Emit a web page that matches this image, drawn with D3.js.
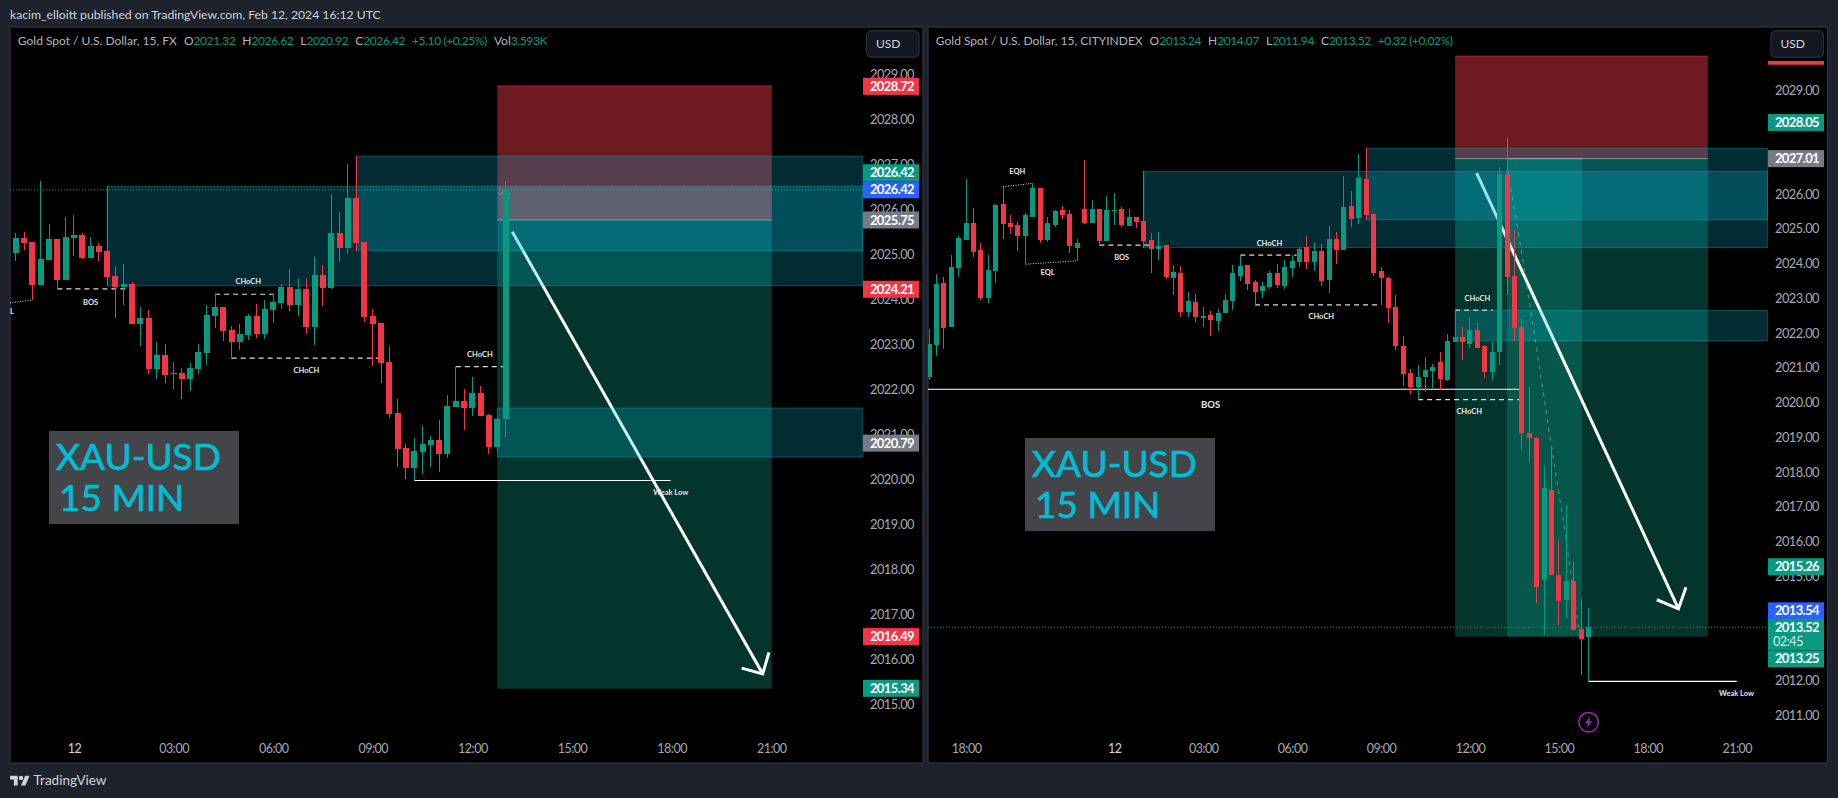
<!DOCTYPE html>
<html><head><meta charset="utf-8">
<script src="https://cdn.jsdelivr.net/npm/d3@7/dist/d3.min.js"></script>
<style>
html,body{margin:0;padding:0;background:#1e222d;overflow:hidden}
svg{display:block}
text{font-family:Lato,"Open Sans",sans-serif}
</style></head><body>
<svg id="c" width="1838" height="798"></svg>
<script>
// ---------- DATA: [open, high, low, close] ----------
const leftFirstBar = -7;
const leftCandles = [
[2025.02,2025.45,2024.84,2025.35],[2025.35,2025.48,2025.08,2025.24],[2025.26,2025.26,2023.97,2024.30],[2024.30,2026.61,2024.30,2024.88],
[2024.86,2025.66,2024.86,2025.33],[2025.33,2025.33,2024.21,2024.41],[2024.41,2025.81,2024.41,2025.37],[2025.35,2025.86,2024.95,2025.41],
[2025.41,2025.46,2024.88,2024.90],[2024.90,2025.37,2024.90,2025.17],[2025.17,2025.24,2024.84,2025.04],[2025.06,2026.50,2024.29,2024.48],
[2024.50,2024.73,2023.57,2024.26],[2024.26,2024.77,2023.86,2024.33],[2024.33,2024.37,2023.44,2023.44],[2023.44,2023.81,2022.95,2023.57],
[2023.57,2023.75,2022.33,2022.44],[2022.44,2023.04,2022.21,2022.75],[2022.75,2022.99,2022.13,2022.30],[2022.33,2022.59,2021.99,2022.35],
[2022.35,2022.46,2021.77,2022.21],[2022.21,2022.57,2021.95,2022.46],[2022.44,2022.99,2022.33,2022.81],[2022.79,2023.86,2022.53,2023.64],
[2023.61,2024.12,2023.35,2023.81],[2023.81,2023.81,2023.06,2023.28],[2023.30,2023.39,2022.67,2023.04],[2023.04,2023.44,2022.86,2023.21],
[2023.19,2023.66,2023.08,2023.61],[2023.61,2023.88,2023.13,2023.21],[2023.21,2023.97,2023.10,2023.77],[2023.75,2024.10,2023.46,2023.93],
[2023.90,2024.33,2023.77,2024.26],[2024.26,2024.66,2023.73,2023.86],[2023.86,2024.44,2023.61,2024.21],[2024.21,2024.44,2023.21,2023.37],
[2023.37,2024.93,2022.97,2024.53],[2024.53,2024.75,2023.84,2024.24],[2024.24,2026.33,2024.21,2025.46],[2025.46,2025.93,2024.81,2025.13],
[2025.13,2026.99,2024.99,2026.24],[2026.24,2027.17,2025.06,2025.24],[2025.26,2025.26,2023.48,2023.59],[2023.61,2023.77,2022.50,2023.44],
[2023.46,2023.46,2022.13,2022.57],[2022.59,2022.95,2021.35,2021.44],[2021.46,2021.76,2020.26,2020.66],[2020.68,2020.77,2019.99,2020.24],
[2020.24,2020.90,2019.97,2020.61],[2020.59,2021.17,2020.10,2020.77],[2020.75,2020.95,2020.26,2020.86],[2020.86,2021.30,2020.15,2020.55],
[2020.55,2021.86,2020.46,2021.61],[2021.59,2022.49,2021.59,2021.73],[2021.73,2021.99,2021.08,2021.57],[2021.57,2022.25,2021.39,2021.90],
[2021.90,2022.06,2021.39,2021.39],[2021.41,2021.44,2020.55,2020.70],[2020.70,2021.38,2020.60,2021.33],[2021.32,2026.62,2020.92,2026.42]
];
const rightFirstBar = -25;
const rightCandles = [
[2020.72,2022.10,2020.63,2021.67],[2021.64,2023.69,2021.32,2023.40],[2023.43,2023.60,2021.53,2022.13],[2022.16,2024.23,2022.16,2023.89],
[2023.86,2024.78,2023.60,2024.72],[2024.67,2026.42,2024.67,2025.16],[2025.16,2025.59,2024.18,2024.32],[2024.38,2024.58,2022.94,2023.00],
[2023.00,2024.23,2022.85,2023.80],[2023.77,2025.70,2023.43,2025.67],[2025.70,2026.20,2024.69,2025.13],[2025.16,2025.39,2024.84,2025.04],
[2025.10,2025.18,2024.35,2024.78],[2024.78,2025.44,2023.95,2025.39],[2025.33,2026.31,2025.33,2026.16],[2026.16,2026.16,2024.58,2024.67],
[2024.67,2025.33,2024.61,2025.16],[2025.10,2025.53,2025.04,2025.50],[2025.53,2025.64,2025.27,2025.39],[2025.41,2025.53,2024.29,2024.49],
[2024.44,2024.69,2024.06,2024.58],[2025.56,2026.97,2025.13,2025.16],[2025.16,2025.82,2025.16,2025.56],[2025.56,2025.56,2024.52,2024.64],
[2024.64,2025.93,2024.64,2025.53],[2025.50,2026.02,2025.10,2025.52],[2025.56,2025.62,2025.04,2025.10],[2025.07,2025.56,2025.07,2025.33],
[2025.33,2025.33,2025.01,2025.18],[2025.21,2026.64,2024.44,2024.64],[2024.67,2024.87,2023.72,2024.41],[2024.41,2024.90,2024.09,2024.49],
[2024.52,2024.52,2023.54,2023.60],[2023.57,2023.95,2023.08,2023.74],[2023.72,2023.92,2022.45,2022.59],[2022.59,2023.17,2022.45,2022.91],
[2022.88,2023.11,2022.30,2022.45],[2022.42,2022.74,2022.16,2022.48],[2022.51,2022.62,2021.90,2022.36],[2022.33,2022.68,2022.04,2022.56],
[2022.56,2023.11,2022.56,2022.94],[2022.91,2023.95,2022.65,2023.72],[2023.63,2024.23,2023.48,2023.92],[2023.95,2023.95,2023.23,2023.40],
[2023.46,2023.51,2022.79,2023.17],[2023.20,2023.46,2023.00,2023.34],[2023.31,2023.77,2023.25,2023.72],[2023.72,2023.97,2023.28,2023.37],
[2023.34,2024.09,2023.25,2023.89],[2023.86,2024.23,2023.60,2024.06],[2024.03,2024.46,2023.89,2024.41],[2024.46,2024.78,2023.83,2024.03],
[2024.03,2024.58,2023.77,2024.35],[2024.35,2024.55,2023.34,2023.48],[2023.51,2025.07,2023.14,2024.69],[2024.69,2024.90,2023.97,2024.38],
[2024.38,2026.51,2024.38,2025.62],[2025.64,2026.08,2025.04,2025.27],[2025.30,2027.14,2025.13,2026.45],[2026.42,2027.32,2025.24,2025.39],
[2025.41,2025.41,2023.63,2023.72],[2023.77,2023.89,2022.79,2023.57],[2023.57,2023.60,2022.28,2022.71],[2022.74,2023.08,2021.50,2021.61],
[2021.61,2021.90,2020.46,2020.81],[2020.84,2020.95,2020.23,2020.43],[2020.43,2021.07,2020.06,2020.72],[2020.72,2021.30,2020.29,2020.92],
[2020.89,2021.09,2020.40,2021.01],[2021.15,2021.44,2020.35,2020.66],[2020.63,2021.96,2020.60,2021.76],[2021.73,2022.65,2021.73,2021.87],
[2021.87,2022.16,2021.21,2021.73],[2021.67,2022.45,2021.56,2022.07],[2022.07,2022.28,2021.56,2021.56],[2021.61,2021.64,2020.69,2020.86],
[2020.86,2021.73,2020.63,2021.44],[2021.44,2026.77,2021.07,2026.57],[2026.57,2027.60,2023.08,2023.60],[2023.63,2024.95,2021.76,2022.13],
[2022.16,2022.39,2018.62,2019.11],[2019.11,2020.44,2018.28,2018.96],[2018.96,2019.00,2014.21,2014.67],[2014.87,2018.16,2013.29,2017.52],
[2017.47,2018.68,2015.02,2015.02],[2015.02,2016.03,2013.58,2014.27],[2014.30,2017.03,2013.78,2014.84],[2014.84,2015.39,2013.43,2013.43],
[2013.46,2014.33,2012.14,2013.17],[2013.24,2014.07,2011.94,2013.52]
];
// zones: [startBar, topPrice, bottomPrice]
const leftZones = [[4,2026.50,2024.29],[34,2027.17,2025.07],[51,2021.57,2020.48]];
const rightZones = [[4,2026.64,2024.45],[34,2027.31,2025.25],[46,2022.64,2021.77]];
// positions: [startBar, endBar, stopPrice, entryPrice, targetPrice]
const leftPositions = [[51,84.07,2028.73,2025.75,2015.33]];
const rightPositions = [[46,80.1,2029.96,2027.01,2013.25],[53,63.1,2027.01,2027.01,2013.25]];
// pale band where the left position's stop meets both zones: [startBar, endBar, topPrice, bottomPrice]
const leftHighlight = [51,84.07,2026.50,2025.75];
// segments: [bar0, price0, bar1, price1, style]
const leftSegments = [
[-2,2024.22,6.57,2024.22,"dash"],[17,2024.10,24.2,2024.10,"dash"],[19,2022.68,37,2022.68,"dash"],[46,2022.49,51.7,2022.49,"dash"],
[-7.7,2023.91,-5,2023.97,"dot"],[41,2019.96,71.9,2019.96,"solid"]];
const rightSegments = [
[-15,2026.20,-11,2026.30,"dot"],[-12,2023.97,-5,2024.07,"dot"],[-2,2024.52,4.7,2024.52,"dash"],[17,2024.23,24.6,2024.23,"dash"],
[19,2022.80,36,2022.80,"dash"],[46,2022.65,51.1,2022.65,"dash"],[41,2020.07,54.7,2020.07,"dash"],
[-25.14,2020.37,54.7,2020.37,"solid"],[64,2011.96,84,2011.96,"solid"]];
// labels: [text, bar, price, size]
const leftLabels = [["BOS",1.99,2023.93,7.5],["CHoCH",21,2024.38,7.5],["CHoCH",28,2022.40,7.5],["CHoCH",48.9,2022.76,7.5],["L",-7.48,2023.71,7.5],["Weak Low",71.9,2019.70,7.5]];
const rightLabels = [["EQH",-13.09,2026.63,7.5],["EQL",-8.99,2023.73,7.5],["BOS",1,2024.17,7.5],["CHoCH",20.94,2024.56,7.5],["CHoCH",27.94,2022.46,7.5],["CHoCH",49,2022.99,7.5],["BOS",13,2019.92,9.5],["CHoCH",47.9,2019.72,7.5],["Weak Low",83.97,2011.61,7.5]];
// arrows: [startBar,startPrice,tipBar,tipPrice,headLBar,headLPrice,headRBar,headRPrice]
const leftArrow = [52.8,2025.49,82.98,2015.66,80.44,2015.79,83.73,2016.14];
const rightArrow = [48.9,2026.59,76.14,2014.05,73.22,2014.31,77.15,2014.67];
const rightGhostPath = [[53.08,2026.68],[54.93,2024.38],[57.02,2021.5],[58.64,2019.2],[60.72,2016.41],[62.81,2013.28]];
const leftGhostPath = [[51.33,2026.32],[51.93,2026.41],[52.53,2026.32]];
// price tags: [text, price, colour]
const leftTags = [["2028.72",2028.72,"#f23645"],["2026.42",2026.80,"#089981"],["2026.42",2026.42,"#2962ff"],["2025.75",2025.75,"#787b86"],["2024.21",2024.21,"#f23645"],["2020.79",2020.79,"#787b86"],["2016.49",2016.49,"#f23645"],["2015.34",2015.34,"#089981"]];
const rightTags = [["2028.05",2028.05,"#089981"],["2027.01",2027.01,"#787b86"],["2015.26",2015.26,"#089981"],["2013.54",2013.99,"#2962ff"],["2013.25",2012.61,"#089981"]];
const leftBarTicks = [0,12,24,36,48,60,72,84];
const leftTimeLabels = ["12","03:00","06:00","09:00","12:00","15:00","18:00","21:00"];
const rightBarTicks = [-20,0,12,24,36,48,60,72,84];
const rightTimeLabels = ["18:00","12","03:00","06:00","09:00","12:00","15:00","18:00","21:00"];
const leftLegend = {title:"Gold Spot / U.S. Dollar, 15, FX",items:[["O","2021.32"],["H","2026.62"],["L","2020.92"],["C","2026.42"],["","+5.10 (+0.25%)"],["Vol","3.593K"]]};
const rightLegend = {title:"Gold Spot / U.S. Dollar, 15, CITYINDEX",items:[["O","2013.24"],["H","2014.07"],["L","2011.94"],["C","2013.52"],["","+0.32 (+0.02%)"]]};
const publisher = "kacim_elloitt published on TradingView.com, Feb 12, 2024 16:12 UTC";

// ---------- DRAW ----------
const RED="#f23645",GREEN="#089981",TEAL="rgb(4,190,220)";
const NUM_LS="-0.5px";
const svg=d3.select("#c");
svg.append("rect").attr("width",1838).attr("height",798).attr("fill","#1e222d");
svg.append("text").attr("x",10).attr("y",18.5).attr("fill","#d1d4dc").attr("font-size",12.2).text(publisher);

function drawPanel(o){
  const g=svg.append("g");
  g.append("rect").attr("x",o.px0).attr("y",27).attr("width",o.px1-o.px0).attr("height",736)
   .attr("fill","#000").attr("stroke","#2a2e39").attr("stroke-width",1.5);
  const id="clip"+o.name;
  svg.append("clipPath").attr("id",id).append("rect").attr("x",o.px0).attr("y",27).attr("width",o.xr1-o.px0).attr("height",736);
  const x=d3.scaleLinear().domain(o.xd).range([o.px0,o.xr1]);
  const y=d3.scaleLinear().domain(o.yd).range([27,763]);
  const plot=g.append("g").attr("clip-path",`url(#${id})`);

  // positions
  o.positions.forEach(p=>{
    const x0=x(p[0]),w=x(p[1])-x0;
    if(p[2]>p[3]){
      plot.append("rect").attr("x",x0).attr("y",y(p[2])).attr("width",w).attr("height",y(p[3])-y(p[2])).attr("fill",RED).attr("fill-opacity",.46);
      plot.append("line").attr("x1",x0).attr("x2",x0+w).attr("y1",y(p[2])).attr("y2",y(p[2])).attr("stroke",RED).attr("stroke-opacity",.6);
    }
    plot.append("rect").attr("x",x0).attr("y",y(p[3])).attr("width",w).attr("height",y(p[4])-y(p[3])).attr("fill",GREEN).attr("fill-opacity",.35);
  });
  // last price dotted
  plot.append("line").attr("x1",o.px0).attr("x2",o.xr1).attr("y1",y(o.last)).attr("y2",y(o.last))
      .attr("stroke",GREEN).attr("stroke-dasharray","1 2");
  // arrow
  const a=o.arrow;
  const ln=d3.line().x(d=>x(d[0])).y(d=>y(d[1]));
  plot.append("path").attr("d",ln([[a[0],a[1]],[a[2],a[3]]])).attr("stroke","#fff").attr("stroke-width",3).attr("fill","none");
  plot.append("path").attr("d",ln([[a[4],a[5]],[a[2],a[3]],[a[6],a[7]]])).attr("stroke","#fff").attr("stroke-width",3).attr("fill","none");
  // zones
  o.zones.forEach(z=>{
    plot.append("rect").attr("x",x(z[0])).attr("y",y(z[1])).attr("width",o.xr1-x(z[0])).attr("height",y(z[2])-y(z[1]))
      .attr("fill",TEAL).attr("fill-opacity",.23).attr("stroke",TEAL).attr("stroke-opacity",.35);
  });
  if(o.highlight){
    const h=o.highlight;
    plot.append("rect").attr("x",x(h[0])).attr("y",y(h[2])).attr("width",x(h[1])-x(h[0])).attr("height",y(h[3])-y(h[2]))
      .attr("fill","rgb(255,130,155)").attr("fill-opacity",.154);
  }
  // entry lines
  o.positions.forEach(p=>{
    plot.append("line").attr("x1",x(p[0])).attr("x2",x(p[1])).attr("y1",y(p[3])).attr("y2",y(p[3]))
      .attr("stroke","#9fb4bf").attr("stroke-opacity",.75).attr("stroke-width",1);
  });
  // ghost path
  plot.append("path").attr("d",ln(o.ghost)).attr("fill","none").attr("stroke","#a8b4b8").attr("stroke-opacity",.5).attr("stroke-width",1.2).attr("stroke-dasharray","4 5");
  // segments
  o.segments.forEach(s=>{
    plot.append("line").attr("x1",x(s[0])).attr("x2",x(s[2])).attr("y1",y(s[1])).attr("y2",y(s[3]))
      .attr("stroke",s[4]=="solid"?"#fff":"#ddd").attr("stroke-width",s[4]=="dot"?1:1.2)
      .attr("stroke-dasharray",s[4]=="dash"?"5 4":s[4]=="dot"?"1 1.5":null);
  });
  // candles
  const cg=plot.append("g").attr("shape-rendering","crispEdges");
  const sel=cg.selectAll("g").data(o.candles).join("g");
  const bx=(d,i)=>x(o.first+i);
  const col=d=>d[3]>=d[0]?GREEN:RED;
  sel.append("line").attr("x1",bx).attr("x2",bx).attr("y1",d=>y(d[1])).attr("y2",d=>y(d[2])).attr("stroke",col);
  sel.append("rect").attr("x",(d,i)=>bx(d,i)-o.bw/2).attr("width",o.bw)
     .attr("y",d=>y(Math.max(d[0],d[3]))).attr("height",d=>Math.max(1,Math.abs(y(d[0])-y(d[3])))).attr("fill",col);
  // labels
  o.labels.forEach(l=>{
    plot.append("text").attr("x",x(l[1])).attr("y",y(l[2])).attr("dy","0.35em").attr("text-anchor","middle")
      .attr("font-size",l[3]).attr("font-weight",700).attr("fill","#e6e6e6").text(l[0]);
  });

  // price axis
  const ay=g.append("g").attr("transform",`translate(${o.xr1},0)`)
    .call(d3.axisRight(y).tickValues(d3.range(o.t0,o.t1+1)).tickFormat(d3.format(".2f")).tickSize(0));
  ay.select(".domain").remove();
  ay.selectAll("text").attr("x",o.axisCx).attr("text-anchor","middle").attr("dy","0.35em").attr("fill","#a6a9b2").attr("font-size",12.8).attr("font-family","Lato").style("letter-spacing",NUM_LS);
  // time axis
  const ax=g.append("g").attr("transform","translate(0,748.7)")
    .call(d3.axisBottom(x).tickValues(o.barTicks).tickFormat((d,i)=>o.timeLabels[i]).tickSize(0));
  ax.select(".domain").remove();
  ax.selectAll("text").attr("y",0).attr("dy","0.35em").attr("font-size",12.5).attr("font-family","Lato").style("letter-spacing",NUM_LS)
    .attr("fill",(d,i)=>o.timeLabels[i]=="12"?"#d1d4dc":"#a6a9b2");

  // tags
  const tag=(txt,p,c)=>{
    const cy=y(p);
    g.append("rect").attr("x",o.xr1).attr("y",cy-8.5).attr("width",56).attr("height",17).attr("fill",c);
    g.append("text").attr("x",o.xr1+o.axisCx).attr("y",cy).attr("dy","0.35em").attr("text-anchor","middle").attr("font-size",13).attr("font-weight",700).style("letter-spacing","-0.6px").attr("fill","#fff").text(txt);
  };
  o.tags.forEach(t=>tag(...t));
  if(o.extra) o.extra(g,x,y);

  // currency button
  const bxx=o.px1-56.5;
  g.append("rect").attr("x",bxx).attr("y",30.7).attr("width",52.5).attr("height",26.5).attr("rx",5).attr("fill","#131722").attr("stroke","#2a2e39").attr("stroke-width",1.2);
  g.append("text").attr("x",bxx+9.5).attr("y",44).attr("dy","0.35em").attr("font-size",12).attr("fill","#d1d4dc").text("USD");

  // legend
  let cx=o.legX;
  const put=(t,fill,ls)=>{const n=g.append("text").attr("x",cx).attr("y",40.5).attr("dy","0.35em").attr("font-size",o.legSize).attr("fill",fill).style("letter-spacing",ls||"0").text(t);cx+=n.node().getComputedTextLength();};
  put(o.legend.title,"#b2b5be"); cx+=7;
  o.legend.items.forEach(it=>{ if(it[0]) put(it[0],"#b2b5be"); put(it[1],GREEN,"-0.4px"); cx+=7; });

  // instrument note
  g.append("rect").attr("x",o.noteX).attr("y",o.noteY).attr("width",o.noteW).attr("height",93).attr("fill","#434548");
  [["XAU-USD",7,39],["15 MIN",10,79.5]].forEach(t=>{
    g.append("text").attr("x",o.noteX+t[1]).attr("y",o.noteY+t[2]).attr("font-size",37).attr("fill","#00bcd4")
      .attr("stroke","#00bcd4").attr("stroke-width",.7).text(t[0]);
  });
  return {x,y,g};
}

drawPanel({name:"L",px0:10,px1:923,xr1:863,xd:[-7.71,95.06],yd:[2030.04,2013.68],candles:leftCandles,first:leftFirstBar,bw:6,
  positions:leftPositions,zones:leftZones,highlight:leftHighlight,segments:leftSegments,labels:leftLabels,arrow:leftArrow,ghost:leftGhostPath,last:2026.42,
  t0:2015,t1:2029,axisCx:29,barTicks:leftBarTicks,timeLabels:leftTimeLabels,tags:leftTags,legend:leftLegend,legX:17.8,legSize:12,
  noteX:49,noteY:431,noteW:190});
drawPanel({name:"R",px0:928,px1:1827.5,xr1:1768,xd:[-25.14,88.22],yd:[2030.80,2009.61],candles:rightCandles,first:rightFirstBar,bw:5,
  positions:rightPositions,zones:rightZones,segments:rightSegments,labels:rightLabels,arrow:rightArrow,ghost:rightGhostPath,last:2013.52,
  t0:2011,t1:2029,axisCx:29,barTicks:rightBarTicks,timeLabels:rightTimeLabels,tags:rightTags,legend:rightLegend,legX:935.8,legSize:12,
  noteX:1025,noteY:438,noteW:190,
  extra(g,x,y){
    g.append("rect").attr("x",1768).attr("y",619).attr("width",56).attr("height",31).attr("fill",GREEN);
    g.append("text").attr("x",1797).attr("y",627.7).attr("dy","0.35em").attr("text-anchor","middle").attr("font-size",13).attr("font-weight",700).style("letter-spacing","-0.6px").attr("fill","#fff").text("2013.52");
    g.append("text").attr("x",1797-9).attr("y",641.7).attr("dy","0.35em").attr("text-anchor","middle").attr("font-size",12.5).style("letter-spacing","-0.4px").attr("fill","#d5efe9").text("02:45");
    g.append("rect").attr("x",1768).attr("y",61).attr("width",56).attr("height",3.7).attr("fill",RED);
    const b=g.append("g").attr("transform","translate(1588.6,722.3)");
    b.append("circle").attr("r",9.8).attr("fill","none").attr("stroke","#9c27b0").attr("stroke-width",1.5);
    b.append("path").attr("d","M1.8,-5.8 L-3.8,1 L-0.6,1 L-1.8,5.8 L3.8,-1 L0.6,-1 Z").attr("fill","#9c27b0");
  }});

// logo
const logo=svg.append("g").attr("transform","translate(10,773.5) scale(.55)").attr("fill","#d1d4dc");
logo.append("path").attr("d","M14 22H7V11H0V4h14v18zM28 22h-8l7.5-18h8L28 22z");
logo.append("circle").attr("cx",20).attr("cy",8).attr("r",4);
svg.append("text").attr("x",33.6).attr("y",784.5).attr("font-size",13.5).attr("fill","#d1d4dc").text("TradingView");
</script>
</body></html>
